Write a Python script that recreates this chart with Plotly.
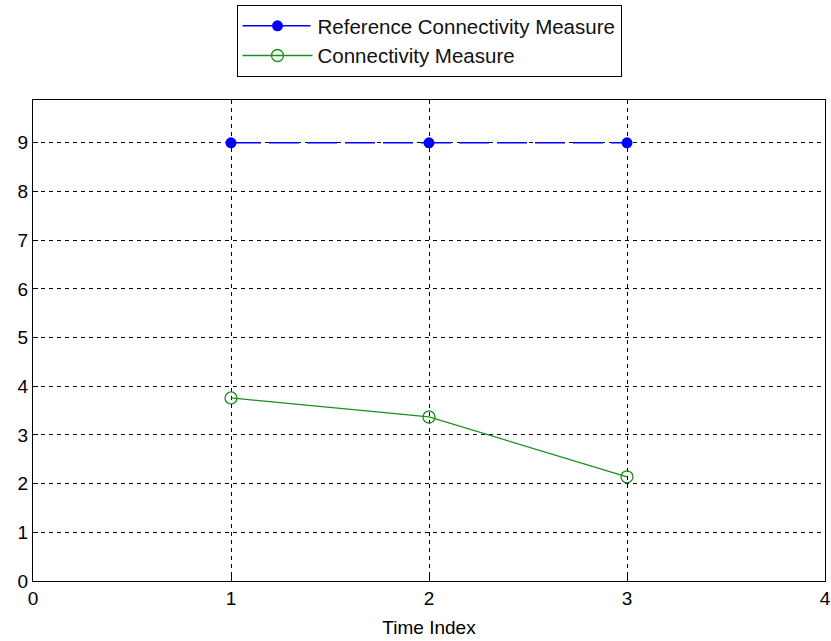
import plotly.graph_objects as go

time_index = [1, 2, 3]
reference_values = [9, 9, 9]
measure_values = [3.76, 3.37, 2.14]
x_ticks = [0, 1, 2, 3, 4]
y_ticks = [0, 1, 2, 3, 4, 5, 6, 7, 8, 9]

FONT = "Liberation Sans, Arial, sans-serif"

fig = go.Figure()
fig.add_trace(go.Scatter(
    x=time_index, y=reference_values, mode="lines+markers",
    name="Reference Connectivity Measure",
    line=dict(color="#0000ff", width=1.5, dash="30px,8px"),
    marker=dict(symbol="circle", size=11, color="#0000ff"),
))
fig.add_trace(go.Scatter(
    x=time_index, y=measure_values, mode="lines+markers",
    name="Connectivity Measure",
    line=dict(color="#1a8f1a", width=1.3),
    marker=dict(symbol="circle-open", size=12, color="#1a8f1a", line=dict(width=1.3)),
))

axis_common = dict(
    showline=True, linecolor="black", linewidth=1.3, mirror=True,
    showgrid=True, gridcolor="black", gridwidth=1, griddash="4px,4px",
    zeroline=False, ticks="inside", ticklen=5, tickcolor="black",
    tickfont=dict(family=FONT, size=19, color="black"),
    automargin=False,
)

fig.update_xaxes(range=[0, 4], tickvals=x_ticks,
                 title=dict(text="Time Index", font=dict(family=FONT, size=19, color="black"), standoff=12),
                 **axis_common)
fig.update_yaxes(range=[0, 9.88], tickvals=y_ticks, **axis_common)

fig.update_layout(
    width=831, height=641,
    margin=dict(l=33, r=6, t=99, b=60),
    plot_bgcolor="white", paper_bgcolor="white",
    font=dict(family=FONT, size=19, color="black"),
    legend=dict(
        x=0.5, xanchor="center", y=1.195, yanchor="top",
        bordercolor="black", borderwidth=1, bgcolor="white",
        font=dict(family=FONT, size=20.5, color="#111"),
        tracegroupgap=0, itemwidth=70,
    ),
    showlegend=True,
)

fig.write_html("out.html")
